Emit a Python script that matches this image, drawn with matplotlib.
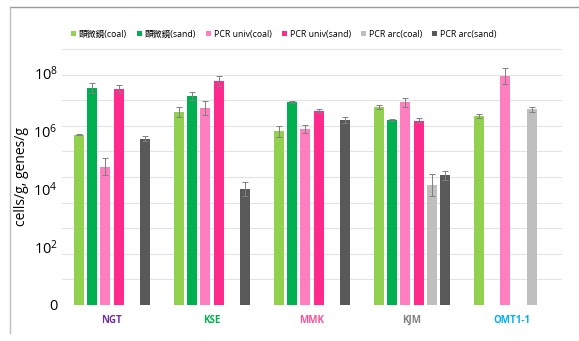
import numpy as np
import matplotlib
matplotlib.use('Agg')
import matplotlib.pyplot as plt
from matplotlib.lines import Line2D

plt.rcParams['font.family'] = ['Open Sans', 'Noto Sans CJK JP', 'DejaVu Sans']
plt.rcParams['mathtext.fontset'] = 'custom'
plt.rcParams['mathtext.rm'] = 'Open Sans'

# sites and series
sites = ['NGT', 'KSE', 'MMK', 'KJM', 'OMT1-1']
site_colors = ['#7030A0', '#00B050', '#FF4F93', '#808080', '#00B0F0']
series = ['顕微鏡(coal)', '顕微鏡(sand)', 'PCR univ(coal)', 'PCR univ(sand)', 'PCR arc(coal)', 'PCR arc(sand)']
series_colors = ['#92D050', '#00B050', '#FF7EBF', '#FF2A8C', '#BFBFBF', '#595959']

nan = np.nan
# values (cells/g or genes/g), one list per series, in site order
micro_coal = [7.4e5, 4.5e6, 9.8e5, 6.6e6, 3.4e6]
micro_sand = [3.0e7, 1.6e7, 1.0e7, 2.4e6, nan]
univ_coal = [5.9e4, 6.3e6, 1.2e6, 9.8e6, 8.1e7]
univ_sand = [2.9e7, 5.4e7, 5.0e6, 2.3e6, nan]
arc_coal = [nan, nan, nan, 1.4e4, 5.7e6]
arc_sand = [5.4e5, 1.0e4, 2.4e6, 3.0e4, nan]

# error half-widths in decades (log10 units)
micro_coal_err = [0.02, 0.16, 0.18, 0.07, 0.07]
micro_sand_err = [0.17, 0.15, 0.02, 0.02, nan]
univ_coal_err = [0.29, 0.25, 0.13, 0.16, 0.28]
univ_sand_err = [0.11, 0.17, 0.06, 0.09, nan]
arc_coal_err = [nan, nan, nan, 0.37, 0.09]
arc_sand_err = [0.09, 0.25, 0.09, 0.16, nan]

values = [micro_coal, micro_sand, univ_coal, univ_sand, arc_coal, arc_sand]
errors = [micro_coal_err, micro_sand_err, univ_coal_err, univ_sand_err, arc_coal_err, arc_sand_err]

fig = plt.figure(figsize=(5.79, 3.41), dpi=100)
ax = fig.add_axes([62 / 579, 1 - 305 / 341, 500 / 579, 256 / 341])

x = np.arange(len(sites))
slot = 0.8 / 6
for i in range(6):
    v = np.array(values[i], dtype=float)
    e = np.array(errors[i], dtype=float)
    pos = x - 0.4 + slot * (i + 0.5)
    ax.bar(pos, v, width=0.1, color=series_colors[i], label=series[i], zorder=2)
    lo = v - v / 10 ** e
    hi = v * 10 ** e - v
    ax.errorbar(pos, v, yerr=[lo, hi], fmt='none', ecolor='#808080',
                elinewidth=0.7, capsize=2, capthick=0.7, zorder=3)

# log axis; gridlines every 0.883 of a decade (as drawn in the original)
step = 0.883
ax.set_yscale('log')
ax.set_ylim(1, 10 ** (10 * step))
ax.set_xlim(-0.5, len(sites) - 0.5)

ax.set_yticks([1, 1e2, 1e4, 1e6, 1e8])
ax.set_yticklabels(['0', r'$\mathregular{10^2}$', r'$\mathregular{10^4}$',
                    r'$\mathregular{10^6}$', r'$\mathregular{10^8}$'], fontsize=10.5)
ax.set_yticks([10 ** (k * step) for k in range(11)], minor=True)
ax.yaxis.set_minor_formatter(matplotlib.ticker.NullFormatter())
ax.tick_params(axis='y', which='both', length=0, pad=3)
ax.grid(axis='y', which='minor', color='#E3E3E3', linewidth=0.8, zorder=0)
ax.grid(axis='y', which='major', visible=False)

ax.set_xticks(x)
ax.set_xticklabels(sites, fontsize=7, fontweight='bold')
for lab, c in zip(ax.get_xticklabels(), site_colors):
    lab.set_color(c)
ax.tick_params(axis='x', length=0, pad=7)

for s in ax.spines.values():
    s.set_visible(False)

ax.set_ylabel('cells/g, genes/g', fontsize=10, labelpad=3)

fig.legend(loc='center', bbox_to_anchor=(0.49, 0.9), ncol=6, fontsize=6.3,
           frameon=False, handlelength=0.6, handleheight=0.6, handletextpad=0.35,
           columnspacing=1.1)

# outer frame pieces
fig.add_artist(Line2D([10 / 579, 1], [1 - 7 / 341, 1 - 7 / 341], color='#9A9A9A', linewidth=1))
fig.add_artist(Line2D([10 / 579, 10 / 579], [1 - 7 / 341, 1 - 333 / 341], color='#BDBDBD', linewidth=1))

fig.savefig('out.png', dpi=100)
